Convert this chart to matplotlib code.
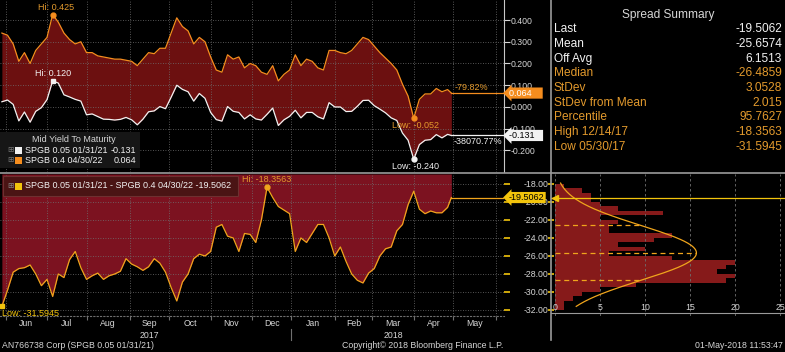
import matplotlib.pyplot as plt
from matplotlib.lines import Line2D
from matplotlib.patches import Rectangle
import numpy as np
import pandas as pd

plt.rcParams['font.family'] = ['Liberation Sans', 'DejaVu Sans']

# Bloomberg puts business days on the x axis (no weekend gaps)
calendar = pd.bdate_range('2017-05-30', '2018-06-15')
obs_dates = pd.bdate_range('2017-05-30', '2018-04-30')
obs_dates = obs_dates[::3].append(obs_dates[-1:])

# SPGB 0.4 04/30/22 mid yield to maturity (%), read every 3rd business day
yld_22 = [0.34, 0.33, 0.29, 0.21, 0.25, 0.20, 0.26, 0.29, 0.32, 0.425,
          0.39, 0.34, 0.31, 0.29, 0.30, 0.25, 0.25, 0.235, 0.23, 0.225,
          0.22, 0.22, 0.215, 0.21, 0.19, 0.22, 0.25, 0.245, 0.27, 0.27,
          0.34, 0.41, 0.37, 0.35, 0.29, 0.32, 0.30, 0.23, 0.17, 0.16,
          0.24, 0.22, 0.23, 0.18, 0.20, 0.19, 0.16, 0.15, 0.19, 0.12,
          0.15, 0.17, 0.24, 0.19, 0.22, 0.21, 0.18, 0.17, 0.26, 0.26,
          0.25, 0.245, 0.26, 0.29, 0.32, 0.31, 0.28, 0.25, 0.225, 0.20,
          0.17, 0.105, 0.05, -0.052, 0.035, 0.06, 0.06, 0.085, 0.07, 0.08,
          0.064]

# spread SPGB 0.05 01/31/21 - SPGB 0.4 04/30/22 (bp)
spread = [-31.5945, -29.8, -27.8, -27.4, -27.3, -27.0, -28.0, -29.3, -28.6, -30.5,
          -28.0, -28.4, -26.4, -25.5, -27.3, -28.6, -28.2, -27.9, -28.6, -28.2,
          -28.0, -27.7, -26.3, -26.9, -27.2, -27.6, -27.2, -26.3, -26.8, -27.8,
          -29.5, -31.0, -28.9, -28.0, -26.3, -25.8, -26.0, -25.5, -22.8, -22.5,
          -23.8, -24.0, -25.5, -23.5, -23.6, -24.5, -22.0, -18.3563, -19.5, -20.5,
          -20.9, -21.3, -25.5, -24.0, -24.5, -23.5, -22.5, -22.5, -24.0, -26.0,
          -25.0, -26.6, -28.0, -28.7, -29.0, -27.9, -27.4, -26.0, -25.2, -25.0,
          -23.2, -22.5, -20.3, -18.8, -20.8, -21.3, -21.0, -21.2, -21.2, -20.6,
          -19.5062]

# distribution of the daily spread, 0.5bp bins from -32 up to -18
hist_edges = np.arange(-32.0, -17.75, 0.5)
hist_counts = [1, 1, 2, 3, 5, 9, 19, 20, 18, 19, 20, 13, 6, 10,
               7, 11, 13, 6, 6, 7, 5, 12, 7, 5, 4, 4, 3, 1]
n_obs = 240

months = ['Jun', 'Jul', 'Aug', 'Sep', 'Oct', 'Nov', 'Dec',
          'Jan', 'Feb', 'Mar', 'Apr', 'May']
month_starts = pd.date_range('2017-06-01', '2018-06-01', freq='MS')

summary_labels = ['Last', 'Mean', 'Off Avg', 'Median', 'StDev', 'StDev from Mean',
                  'Percentile', 'High 12/14/17', 'Low 05/30/17']
summary_values = ['-19.5062', '-25.6574', '6.1513', '-26.4859', '3.0528', '2.015',
                  '95.7627', '-18.3563', '-31.5945']
spread_mean = -25.6574
spread_sd = 3.0528

# colours
ORANGE = '#f58d1e'
WHITE = '#f2f2f2'
GOLD = '#f0a51c'
YELLOW = '#f2c40c'
AMBER = '#e39a2d'
TXT = '#d6d6d6'
GRID = '#707070'
TOP_FILL = '#6c1010'
BOT_FILL = '#7c1220'
HIST_RED = '#861a1a'

yld_22 = np.array(yld_22)
spread = np.array(spread)
yld_21 = yld_22 + spread / 100.0

x = calendar.get_indexer(obs_dates)
m_pos = calendar.searchsorted(month_starts)
m_mid = (m_pos[:-1] + m_pos[1:]) / 2
xlim = (-1, 267)

W, H = 785, 352
fig = plt.figure(figsize=(W / 100, H / 100), dpi=100, facecolor='black')


def box(x0, y0, x1, y1):
    return [x0 / W, 1 - y1 / H, (x1 - x0) / W, (y1 - y0) / H]


def fx(px):
    return px / W


def fy(py):
    return 1 - py / H


def style(ax):
    ax.set_facecolor('black')
    for s in ax.spines.values():
        s.set_visible(False)


# ---------------- top panel: the two yields ----------------
ax = fig.add_axes(box(0, 0, 504, 172))
style(ax)
ax.fill_between(x, yld_21, yld_22, color=TOP_FILL, lw=0)
ax.plot(x, yld_22, color=ORANGE, lw=0.9)
ax.plot(x, yld_21, color=WHITE, lw=0.9)
ax.set_xlim(*xlim)
ax.set_ylim(-0.299, 0.492)
ax.set_yticks([0.4, 0.3, 0.2, 0.1, 0.0, -0.1, -0.2])
ax.set_yticklabels([f'{v:.3f}' for v in [0.4, 0.3, 0.2, 0.1, 0.0, -0.1, -0.2]])
ax.yaxis.tick_right()
ax.tick_params(axis='y', colors=TXT, labelsize=6.3, length=4, width=0.8, pad=1)
ax.set_xticks(m_pos)
ax.tick_params(axis='x', length=0, labelbottom=False)
ax.grid(True, color=GRID, lw=0.6, ls=(0, (1, 2)))
ax.spines['right'].set_visible(True)
ax.spines['right'].set_color('#c8c8c8')

# hi / low markers
i = yld_22.argmax()
ax.plot(x[i], yld_22[i], 'o', color=ORANGE, ms=3.5)
ax.annotate(f'Hi: {yld_22[i]:.3f}', (x[i], yld_22[i]), xytext=(3, 3), textcoords='offset pixels',
            ha='center', va='bottom', color=AMBER, fontsize=6.5)
i = yld_21.argmax()
ax.plot(x[i], yld_21[i], 's', color=WHITE, ms=3.5)
ax.annotate(f'Hi: {yld_21[i]:.3f}', (x[i], yld_21[i]), xytext=(0, 3), textcoords='offset pixels',
            ha='center', va='bottom', color=WHITE, fontsize=6.5)
i = yld_22.argmin()
ax.plot(x[i], yld_22[i], 'o', color=ORANGE, ms=3.5)
ax.annotate(f'Low: {yld_22[i]:.3f}', (x[i], yld_22[i]), xytext=(2, -3), textcoords='offset pixels',
            ha='center', va='top', color=AMBER, fontsize=6.5)
i = yld_21.argmin()
ax.plot(x[i], yld_21[i], 'o', color=WHITE, ms=3.5)
ax.annotate(f'Low: {yld_21[i]:.3f}', (x[i], yld_21[i]), xytext=(2, -3), textcoords='offset pixels',
            ha='center', va='top', color=WHITE, fontsize=6.5, annotation_clip=False)

# last value lines, % change and tags
ax.plot([x[-1], xlim[1]], [yld_22[-1]] * 2, color=ORANGE, lw=0.9)
ax.plot([x[-1], xlim[1]], [yld_21[-1]] * 2, color=WHITE, lw=0.9)
yt = ax.get_yaxis_transform()
ax.annotate('-79.82%', (1, yld_22[-1]), xycoords=yt, xytext=(-16, 1), textcoords='offset pixels',
            ha='right', va='bottom', color=AMBER, fontsize=6.5)
ax.annotate('-38070.77%', (1, yld_21[-1]), xycoords=yt, xytext=(-2, -2), textcoords='offset pixels',
            ha='right', va='top', color=WHITE, fontsize=6.5)
ax.annotate(f'{yld_22[-1]:.3f}    ', (1, yld_22[-1]), xycoords=yt, xytext=(5, 0),
            textcoords='offset pixels', ha='left', va='center', color='white', fontsize=6.5,
            bbox=dict(boxstyle='larrow,pad=0.12', fc=ORANGE, ec='none'), annotation_clip=False, zorder=5)
ax.annotate(f'{yld_21[-1]:.3f}   ', (1, yld_21[-1]), xycoords=yt, xytext=(5, 0),
            textcoords='offset pixels', ha='left', va='center', color='black', fontsize=6.5,
            bbox=dict(boxstyle='larrow,pad=0.12', fc=WHITE, ec='none'), annotation_clip=False, zorder=5)

# legend box of the top panel
fig.patches.append(Rectangle((fx(0), fy(168)), fx(140), fy(132) - fy(168), transform=fig.transFigure,
                             fc='#161616', ec='none', zorder=3))
fig.text(fx(74), fy(140), 'Mid Yield To Maturity', color=TXT, fontsize=6.5, ha='center', va='center', zorder=4)
for row, (lab, col, val) in enumerate([('SPGB 0.05 01/31/21', WHITE, yld_21[-1]),
                                        ('SPGB 0.4 04/30/22', ORANGE, yld_22[-1])]):
    yy = fy(150.5 + 10.3 * row)
    fig.text(fx(7), yy, '\u229e', color='#777777', fontsize=5.5, ha='left', va='center', zorder=4)
    fig.patches.append(Rectangle((fx(15), yy - 3.4 / H), fx(7), 6.8 / H, transform=fig.transFigure,
                                 fc=col, ec='none', zorder=4))
    fig.text(fx(25), yy, lab, color=WHITE, fontsize=6.5, ha='left', va='center', zorder=4)
    fig.text(fx(136), yy, f'{val:.3f}', color=WHITE, fontsize=6.5, ha='right', va='center', zorder=4)

# ---------------- bottom panel: the spread ----------------
ax2 = fig.add_axes(box(0, 174, 504, 316))
style(ax2)
ylim2 = (-32.67, -16.89)
ax2.fill_between(x, spread, ylim2[1], color=BOT_FILL, lw=0)
ax2.plot(x, spread, color=GOLD, lw=0.9)
ax2.plot([x[-1], xlim[1]], [spread[-1]] * 2, color=GOLD, lw=0.9)
ax2.set_xlim(*xlim)
ax2.set_ylim(*ylim2)
yt2 = np.arange(-18, -33, -2)
ax2.set_yticks(yt2)
ax2.set_yticklabels([f'{v:.2f}' for v in yt2])
ax2.yaxis.tick_right()
ax2.tick_params(axis='y', colors=YELLOW, labelcolor=TXT, labelsize=6.3, length=4, width=1.2, pad=10)
ax2.set_xticks(m_pos, minor=True)
ax2.set_xticks(m_mid)
ax2.set_xticklabels(months)
ax2.tick_params(axis='x', which='major', length=0, colors=TXT, labelsize=6.3, pad=2.5)
ax2.tick_params(axis='x', which='minor', length=3, color=GRID, width=0.8)
ax2.grid(True, which='major', axis='y', color=GRID, lw=0.6, ls=(0, (1, 2)))
ax2.grid(True, which='minor', axis='x', color=GRID, lw=0.6, ls=(0, (1, 2)))
ax2.spines['bottom'].set_visible(True)
ax2.spines['bottom'].set_color(GRID)
ax2.spines['bottom'].set_linestyle((0, (1, 2)))

xt2 = ax2.get_xaxis_transform()
ax2.text((m_pos[3] + m_pos[4]) / 2, -0.105, '2017', transform=xt2, color=TXT, fontsize=6.3,
         ha='center', va='top')
ax2.text((m_pos[9] + m_pos[10]) / 2, -0.105, '2018', transform=xt2, color=TXT, fontsize=6.3,
         ha='center', va='top')
ax2.add_line(Line2D([m_pos[7], m_pos[7]], [-0.09, -0.17], transform=xt2, color=GRID, lw=0.8,
                    clip_on=False))

i = spread.argmax()
ax2.plot(x[i], spread[i], 'o', color=GOLD, ms=3.5)
ax2.annotate(f'Hi: {spread[i]:.4f}', (x[i], spread[i]), xytext=(0, 3), textcoords='offset pixels',
             ha='center', va='bottom', color=AMBER, fontsize=6.5)
i = spread.argmin()
ax2.plot(x[i], spread[i], 's', color=YELLOW, ms=3.5, clip_on=False)
ax2.annotate(f'Low: {spread[i]:.4f}', (x[i], spread[i]), xytext=(0, -3), textcoords='offset pixels',
             ha='left', va='top', color=YELLOW, fontsize=6.5)
ax2.annotate(f'{spread[-1]:.4f}', (1, spread[-1]), xycoords=ax2.get_yaxis_transform(), xytext=(5, 0),
             textcoords='offset pixels', ha='left', va='center', color='black', fontsize=6.5,
             bbox=dict(boxstyle='larrow,pad=0.12', fc=YELLOW, ec='none'), annotation_clip=False, zorder=5)

# legend box of the bottom panel
fig.patches.append(Rectangle((fx(3), fy(196)), fx(235), fy(176) - fy(196), transform=fig.transFigure,
                             fc='#4a1414', ec='#6e3030', lw=0.8, zorder=3))
fig.text(fx(7), fy(186), '\u229e', color='#888888', fontsize=5.5, ha='left', va='center', zorder=4)
fig.patches.append(Rectangle((fx(15), fy(189.5)), fx(7), 7 / H, transform=fig.transFigure,
                             fc=YELLOW, ec='none', zorder=4))
fig.text(fx(25), fy(186), f'SPGB 0.05 01/31/21 - SPGB 0.4 04/30/22 {spread[-1]:.4f}', color=WHITE,
         fontsize=6.5, ha='left', va='center', zorder=4)

# ---------------- histogram of the spread ----------------
ax3 = fig.add_axes(box(551, 174, 785, 316))
style(ax3)
centers = (hist_edges[:-1] + hist_edges[1:]) / 2
ax3.barh(centers, hist_counts, height=0.5, color=HIST_RED, lw=0)
yy = np.linspace(-31.6, -17.9, 200)
curve = n_obs * 0.5 / (spread_sd * np.sqrt(2 * np.pi)) * np.exp(-0.5 * ((yy - spread_mean) / spread_sd) ** 2)
ax3.plot(curve, yy, color=GOLD, lw=0.9)
for k in (-1, 0, 1):
    lv = spread_mean + k * spread_sd
    cv = n_obs * 0.5 / (spread_sd * np.sqrt(2 * np.pi)) * np.exp(-0.5 * k ** 2)
    ax3.plot([0, cv], [lv, lv], color=GOLD, lw=0.9, ls=(0, (4, 3)))
ax3.axhline(spread[-1], color=YELLOW, lw=0.9)
ax3.plot(0, spread[-1], '<', color=YELLOW, ms=4)
ax3.set_xlim(-0.44, 25.5)
ax3.set_ylim(*ylim2)
ax3.set_xticks([0, 5, 10, 15, 20, 25])
ax3.tick_params(axis='x', direction='in', length=0, pad=-7, colors=TXT, labelsize=6.3)
ax3.set_yticks(yt2)
ax3.tick_params(axis='y', length=4, width=1.2, color=YELLOW, direction='inout', labelleft=False)
ax3.grid(True, axis='x', color=GRID, lw=0.6, ls=(0, (3, 3)))
ax3.spines['bottom'].set_visible(True)
ax3.spines['bottom'].set_color('#9a9a9a')
ax3.spines['bottom'].set_position(('data', -32.3))

# ---------------- frame lines ----------------
fig.add_artist(Line2D([0, 1], [fy(173), fy(173)], color='#9a9a9a', lw=1.2))
fig.add_artist(Line2D([fx(551), fx(551)], [fy(0), fy(340)], color='#9a9a9a', lw=1.2))

# ---------------- spread summary ----------------
fig.text(fx(668), fy(15), 'Spread Summary', color=TXT, fontsize=8.6, ha='center', va='center')
for r, (lab, val) in enumerate(zip(summary_labels, summary_values)):
    col = WHITE if r < 3 else AMBER
    fig.text(fx(554), fy(29.3 + 14.7 * r), lab, color=col, fontsize=8.6, ha='left', va='center')
    fig.text(fx(782), fy(29.3 + 14.7 * r), val, color=col, fontsize=8.6, ha='right', va='center')

# ---------------- footer ----------------
fig.text(fx(2), fy(346), 'AN766738 Corp (SPGB 0.05 01/31/21)', color=TXT, fontsize=6.3, ha='left', va='center')
fig.text(fx(423), fy(346), 'Copyright\u00a9 2018 Bloomberg Finance L.P.', color=TXT, fontsize=6.3,
         ha='center', va='center')
fig.text(fx(783), fy(346), '01-May-2018 11:53:47', color=TXT, fontsize=6.3, ha='right', va='center')

fig.savefig('out.png', dpi=100, facecolor='black')
